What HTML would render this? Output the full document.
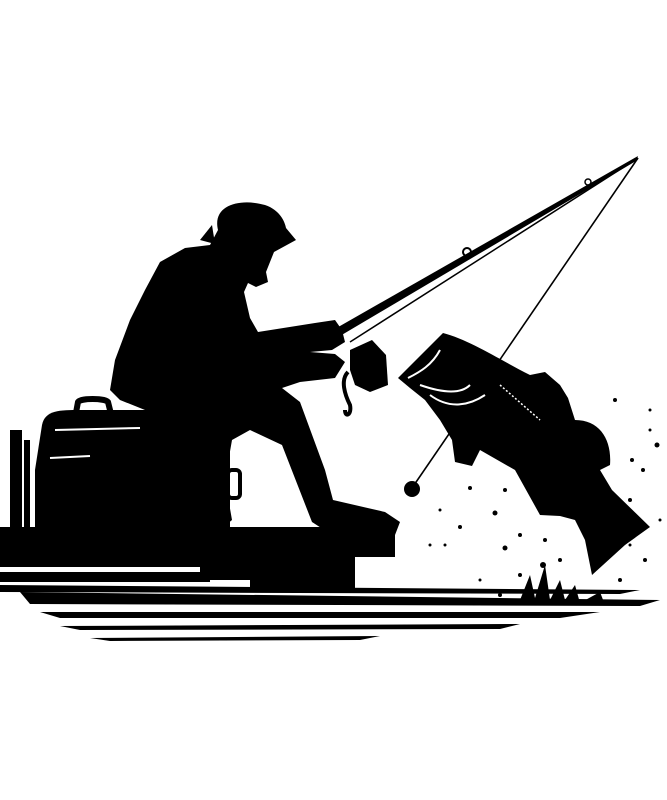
<!DOCTYPE html>
<html><head><meta charset="utf-8"><style>html,body{margin:0;padding:0;background:#fff}svg{display:block}</style></head>
<body>
<svg width="667" height="800" viewBox="0 0 667 800" xmlns="http://www.w3.org/2000/svg">
<rect width="667" height="800" fill="#fff"/>
<!-- rod -->
<path d="M333 330 L638 156 L636 161 L340 336 Z" fill="#000"/>
<line x1="350" y1="342" x2="638" y2="158" stroke="#000" stroke-width="1.5"/>
<line x1="638" y1="158" x2="412" y2="488" stroke="#000" stroke-width="1.6"/>
<circle cx="412" cy="489" r="8" fill="#000"/>
<circle cx="588" cy="182" r="3" fill="none" stroke="#000" stroke-width="1.5"/>
<circle cx="467" cy="252" r="4" fill="none" stroke="#000" stroke-width="2"/>
<!-- reel -->
<path d="M350 350 L372 340 L386 355 L388 385 L370 392 L355 385 L350 370 Z" fill="#000"/>
<path d="M348 372 C340 380 345 395 350 405 C352 415 345 418 345 410" fill="none" stroke="#000" stroke-width="4"/>
<!-- dock -->
<rect x="0" y="527" width="395" height="30" fill="#000"/>
<rect x="250" y="555" width="105" height="35" fill="#000"/>
<rect x="200" y="555" width="50" height="25" fill="#000"/>
<rect x="10" y="430" width="12" height="100" fill="#000"/>
<rect x="24" y="440" width="6" height="90" fill="#000"/>
<rect x="0" y="555" width="200" height="12" fill="#000"/>
<rect x="0" y="572" width="210" height="10" fill="#000"/>
<!-- cooler -->
<path d="M42 425 C45 410 60 410 80 410 L200 410 C225 412 230 430 230 450 L230 530 L35 530 L35 470 Z" fill="#000"/>
<path d="M75 418 L78 402 C80 398 105 398 108 402 L112 418" fill="none" stroke="#000" stroke-width="6"/>
<path d="M55 430 L140 428" stroke="#fff" stroke-width="2"/>
<path d="M50 458 L90 456" stroke="#fff" stroke-width="2"/>
<rect x="228" y="470" width="12" height="28" rx="4" fill="none" stroke="#000" stroke-width="4"/>
<!-- man -->
<path d="M218 230 C212 205 240 198 265 205 C280 210 285 222 286 228 L296 240 L274 252 L270 262 L266 272 L268 282 L256 287 L248 283 L244 292 L250 318 L258 332 L315 323 L335 320 L342 330 L345 342 L332 350 L310 352 L335 354 L345 362 L335 378 L300 382 L282 388 L300 402 L325 470 L333 500 L385 512 L400 522 L395 535 L332 535 L312 522 L282 445 L250 430 L232 440 L225 480 L232 520 L220 530 L180 530 L175 470 L145 410 L120 400 L110 390 L115 360 L130 320 L145 290 L160 262 L185 248 L210 245 Z" fill="#000"/>
<path d="M200 240 L212 225 L215 244 Z" fill="#000"/>
<!-- fish -->
<path d="M398 378 L443 333 C470 340 500 360 530 375 L545 372 L560 385 L568 398 L575 420 C600 420 612 440 610 465 L600 470 L612 490 L650 527 L625 545 L592 575 L585 540 L575 520 L560 516 L540 515 L530 497 L515 470 L480 450 L472 466 L455 462 L452 440 L440 420 L425 400 L410 388 Z" fill="#000"/>
<path d="M408 378 C420 372 432 365 440 350 M420 385 C440 392 460 395 470 385 M430 395 C450 410 470 405 485 395" fill="none" stroke="#fff" stroke-width="2"/>
<path d="M500 385 L540 420" stroke="#fff" stroke-width="1.5" stroke-dasharray="2 2"/>
<!-- splash -->
<g fill="#000">
<circle cx="470" cy="488" r="2"/><circle cx="505" cy="490" r="2"/><circle cx="495" cy="513" r="2.5"/>
<circle cx="460" cy="527" r="2"/><circle cx="445" cy="545" r="1.5"/><circle cx="505" cy="548" r="2.5"/>
<circle cx="520" cy="535" r="2"/><circle cx="545" cy="540" r="2"/><circle cx="543" cy="565" r="3"/>
<circle cx="520" cy="575" r="2"/><circle cx="480" cy="580" r="1.5"/><circle cx="500" cy="595" r="2"/>
<circle cx="630" cy="500" r="2"/><circle cx="643" cy="470" r="2"/><circle cx="657" cy="445" r="2.5"/>
<circle cx="650" cy="430" r="1.5"/><circle cx="632" cy="460" r="2"/><circle cx="620" cy="580" r="2"/>
<circle cx="645" cy="560" r="2"/><circle cx="630" cy="545" r="1.5"/><circle cx="440" cy="510" r="1.5"/>
<circle cx="430" cy="545" r="1.5"/><circle cx="560" cy="560" r="2"/><circle cx="650" cy="410" r="1.5"/>
<circle cx="615" cy="400" r="2"/><circle cx="660" cy="520" r="1.5"/>
</g>
<path d="M520 600 L530 575 L535 598 L545 565 L550 600 L560 580 L565 600 L575 585 L580 603 L600 592 L605 605 Z" fill="#000"/>
<!-- water -->
<g fill="#000">
<path d="M20 592 L660 600 L640 606 L30 604 Z"/>
<path d="M40 612 L600 612 L560 618 L60 618 Z"/>
<path d="M60 626 L520 624 L500 629 L80 630 Z"/>
<path d="M90 638 L380 636 L360 640 L110 641 Z"/>
<path d="M0 585 L640 590 L620 594 L0 592 Z"/>
</g>
</svg>
</body></html>
